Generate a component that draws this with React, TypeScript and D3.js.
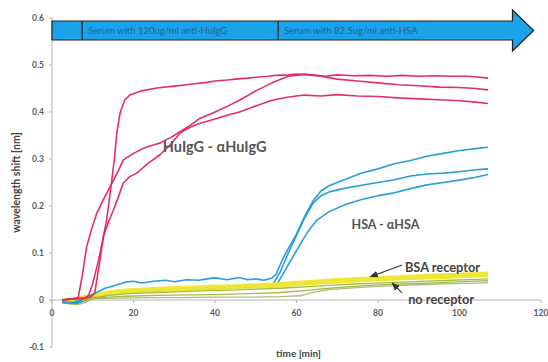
import React from 'react';
import { scaleLinear, line, curveLinear } from 'd3';

const W = 548;
const H = 362;

// time [min], wavelength shift [nm]
const huigg1: [number, number][] = [
    [2.5, 0.0], [4, 0.002], [6, 0.003], [8, 0.004], [9, 0.01], [10, 0.035], [11, 0.07], [11.8, 0.1], [12.6, 0.135],
    [13.4, 0.17], [14.6, 0.25], [15.3, 0.3], [15.9, 0.355], [16.7, 0.398], [17.8, 0.425], [19.1, 0.436],
    [22, 0.445], [25.7, 0.451], [30, 0.455], [33, 0.458], [35, 0.46], [38, 0.463], [40, 0.466], [43, 0.468],
    [45, 0.47], [48, 0.472], [50, 0.474], [53, 0.476], [55, 0.478], [58, 0.479], [60, 0.481], [62, 0.48],
    [65, 0.478], [67, 0.476], [70, 0.479], [74, 0.477], [78, 0.478], [82, 0.476], [86, 0.478], [90, 0.476],
    [94, 0.477], [98, 0.476], [102, 0.476], [105, 0.474], [107, 0.472],
];
const huigg2: [number, number][] = [
    [2.5, 0.0], [4, 0.001], [5.5, 0.003], [6.4, 0.004], [7.4, 0.05], [8.5, 0.113], [9.7, 0.15], [11, 0.185],
    [12.5, 0.212], [14.2, 0.24], [16, 0.27], [17.5, 0.298], [20, 0.312], [23, 0.325], [26.5, 0.334],
    [29, 0.345], [31.4, 0.358], [34, 0.372], [36, 0.385], [40, 0.4], [43, 0.412], [46, 0.425], [50, 0.445],
    [54, 0.462], [58, 0.476], [62, 0.48], [66, 0.476], [70, 0.47], [75, 0.466], [80, 0.462], [85, 0.458],
    [90, 0.456], [95, 0.453], [100, 0.452], [104, 0.45], [107, 0.447],
];
const huigg3: [number, number][] = [
    [2.5, 0.0], [5, 0.002], [8, 0.004], [9.5, 0.006], [10.5, 0.015], [11.5, 0.07], [12.6, 0.134], [13.8, 0.165],
    [15, 0.19], [16.3, 0.22], [17.5, 0.249], [19, 0.262], [20.8, 0.27], [23.5, 0.29], [26.5, 0.309],
    [29, 0.33], [31.4, 0.355], [34, 0.368], [36, 0.375], [40, 0.385], [43, 0.393], [46, 0.4], [50, 0.413],
    [54, 0.425], [58, 0.432], [62, 0.436], [66, 0.434], [70, 0.437], [75, 0.434], [80, 0.433], [85, 0.43],
    [90, 0.428], [95, 0.426], [100, 0.424], [104, 0.421], [107, 0.418],
];

const hsa1: [number, number][] = [
    [2.5, -0.004], [5, -0.007], [7, 0.0], [10, 0.012], [13, 0.025], [15, 0.03], [18, 0.038], [20, 0.04],
    [22, 0.036], [25, 0.04], [28, 0.042], [30, 0.039], [33, 0.043], [36, 0.042], [38, 0.045], [40, 0.047],
    [43, 0.043], [46, 0.048], [48, 0.043], [50, 0.045], [52, 0.042], [54, 0.047], [55, 0.055], [56.5, 0.085],
    [58, 0.11], [60, 0.14], [62, 0.178], [64, 0.21], [66, 0.232], [68, 0.243], [70, 0.25], [73, 0.26],
    [76, 0.27], [80, 0.279], [84, 0.29], [88, 0.297], [92, 0.306], [96, 0.312], [100, 0.318], [104, 0.322],
    [107, 0.325],
];
const hsa2: [number, number][] = [
    [2.5, -0.005], [6, -0.006], [9, 0.004], [14, 0.014], [20, 0.02], [26, 0.022], [32, 0.024], [38, 0.026],
    [44, 0.027], [50, 0.029], [54, 0.031], [56, 0.06], [58, 0.1], [60, 0.138], [62, 0.175], [64, 0.205],
    [66, 0.222], [68, 0.23], [72, 0.238], [76, 0.244], [80, 0.25], [84, 0.256], [88, 0.264], [92, 0.268],
    [96, 0.27], [100, 0.273], [104, 0.277], [107, 0.279],
];
const hsa3: [number, number][] = [
    [2.5, -0.006], [6, -0.008], [9, 0.002], [14, 0.012], [20, 0.018], [26, 0.021], [32, 0.023], [38, 0.025],
    [44, 0.026], [50, 0.028], [55, 0.03], [57, 0.06], [59, 0.09], [61, 0.12], [63, 0.148], [65, 0.17],
    [68, 0.188], [72, 0.203], [76, 0.214], [80, 0.222], [84, 0.228], [88, 0.237], [92, 0.245], [96, 0.25],
    [100, 0.255], [104, 0.261], [107, 0.267],
];

const bsa1: [number, number][] = [
    [2.5, 0.0], [5, 0.002], [8, 0.008], [12, 0.015], [16, 0.02], [20, 0.023], [25, 0.025], [30, 0.027],
    [35, 0.028], [40, 0.03], [45, 0.031], [50, 0.033], [55, 0.035], [60, 0.038], [65, 0.041], [70, 0.044],
    [75, 0.046], [80, 0.048], [85, 0.05], [90, 0.052], [95, 0.054], [100, 0.055], [104, 0.057], [107, 0.058],
];
const bsa2: [number, number][] = [
    [2.5, 0.0], [5, 0.0], [8, 0.005], [12, 0.012], [16, 0.017], [20, 0.02], [25, 0.021], [30, 0.024],
    [35, 0.025], [40, 0.027], [45, 0.029], [50, 0.03], [55, 0.031], [60, 0.035], [65, 0.038], [70, 0.041],
    [75, 0.043], [80, 0.045], [85, 0.047], [90, 0.049], [95, 0.05], [100, 0.052], [104, 0.053], [107, 0.054],
];
const bsa3: [number, number][] = [
    [2.5, 0.0], [5, -0.002], [8, 0.003], [12, 0.01], [16, 0.014], [20, 0.017], [25, 0.019], [30, 0.021],
    [35, 0.022], [40, 0.024], [45, 0.026], [50, 0.027], [55, 0.029], [60, 0.032], [65, 0.035], [70, 0.038],
    [75, 0.04], [80, 0.042], [85, 0.044], [90, 0.046], [95, 0.047], [100, 0.049], [104, 0.05], [107, 0.051],
];

const noRec1: [number, number][] = [
    [2.5, -0.002], [4, -0.008], [6, -0.01], [8, -0.006], [10, 0.004], [14, 0.01], [20, 0.014], [26, 0.016],
    [32, 0.018], [38, 0.02], [44, 0.021], [50, 0.023], [56, 0.025], [62, 0.028], [68, 0.031], [74, 0.034],
    [80, 0.036], [86, 0.038], [92, 0.04], [98, 0.042], [104, 0.044], [107, 0.045],
];
const noRec2: [number, number][] = [
    [2.5, 0.0], [5, -0.004], [8, 0.0], [12, 0.005], [18, 0.008], [26, 0.01], [34, 0.011], [42, 0.012],
    [50, 0.014], [56, 0.016], [62, 0.02], [68, 0.025], [74, 0.029], [80, 0.032], [86, 0.034], [92, 0.036],
    [98, 0.038], [104, 0.04], [107, 0.041],
];
const noRec3: [number, number][] = [
    [2.5, 0.0], [6, 0.0], [10, 0.003], [16, 0.004], [24, 0.005], [32, 0.005], [40, 0.006], [48, 0.006],
    [56, 0.007], [61, 0.009], [64, 0.016], [68, 0.022], [74, 0.026], [80, 0.029], [86, 0.031], [92, 0.033],
    [98, 0.035], [104, 0.036], [107, 0.037],
];

const xTicks = [0, 20, 40, 60, 80, 100, 120];
const yTicks = [-0.1, 0, 0.1, 0.2, 0.3, 0.4, 0.5, 0.6];
const injections = [7.4, 55.5];
const injectionLabels = ['Serum with 120ug/ml anti-HuIgG', 'Serum with 82.5ug/ml anti-HSA'];

const RED = '#e2245b';
const BLUE = '#1c9ad8';
const YELLOW = '#eee72e';
const GREEN = '#9dbb3f';
const OLIVE = '#b3b37e';

export default function App() {
    const x = scaleLinear().domain([0, 120]).range([52, 541]);
    const y = scaleLinear().domain([-0.1, 0.6]).range([347, 18]);
    const path = line<[number, number]>()
        .x((d) => x(d[0]))
        .y((d) => y(d[1]))
        .curve(curveLinear);

    const series = [
        { d: hsa3, c: BLUE, w: 1.6 },
        { d: hsa2, c: BLUE, w: 1.6 },
        { d: noRec3, c: OLIVE, w: 1.3 },
        { d: bsa3, c: YELLOW, w: 2.6 },
        { d: bsa2, c: YELLOW, w: 2.6 },
        { d: bsa1, c: YELLOW, w: 2.6 },
        { d: noRec2, c: GREEN, w: 1.3 },
        { d: noRec1, c: GREEN, w: 1.3 },
        { d: hsa1, c: BLUE, w: 1.6 },
        { d: huigg3, c: RED, w: 1.6 },
        { d: huigg2, c: RED, w: 1.6 },
        { d: huigg1, c: RED, w: 1.6 },
    ];

    const font = 'Lato, "Open Sans", sans-serif';
    const bx0 = x(0);
    const bx1 = x(113);
    const tip = x(118.2);
    const arrow = `M${bx0},21 H${bx1} V10 L${tip},30.5 L${bx1},51 V40 H${bx0} Z`;

    return (
        <svg width={W} height={H} style={{ position: 'absolute', left: 0, top: 0, background: '#fff' }}>
            <defs>
                <marker id="ah" viewBox="0 0 10 10" refX="8" refY="5" markerWidth="7" markerHeight="7" orient="auto">
                    <path d="M0,1 L10,5 L0,9 Z" fill="#333" />
                </marker>
            </defs>
            {/* axes */}
            <line x1={x(0)} x2={x(0)} y1={y(0.6)} y2={y(-0.1)} stroke="#b5b5b5" />
            <line x1={x(0)} x2={x(120)} y1={y(0)} y2={y(0)} stroke="#b5b5b5" />
            {yTicks.map((t) => (
                <g key={t}>
                    <line x1={x(0) - 3} x2={x(0)} y1={y(t)} y2={y(t)} stroke="#b5b5b5" />
                    <text x={x(0) - 8} y={y(t)} dy="0.35em" textAnchor="end" fontSize={8.5} fontWeight="bold" fill="#5a5a5a" fontFamily={font}>
                        {t === 0 ? '0' : String(Math.round(t * 10) / 10)}
                    </text>
                </g>
            ))}
            {xTicks.map((t) => (
                <g key={t}>
                    <line x1={x(t)} x2={x(t)} y1={y(0)} y2={y(0) + 3} stroke="#b5b5b5" />
                    <text x={x(t)} y={313} dy="0.35em" textAnchor="middle" fontSize={8.5} fontWeight="bold" fill="#5a5a5a" fontFamily={font}>
                        {t}
                    </text>
                </g>
            ))}
            <text transform={`translate(16,${y(0.25)}) rotate(-90)`} textAnchor="middle" dy="0.35em" fontSize={10.5} fontWeight="bold" fill="#444" fontFamily={font}>
                wavelength shift [nm]
            </text>
            <text x={x(60.5)} y={353} dy="0.35em" textAnchor="middle" fontSize={10} fontWeight="bold" fill="#444" fontFamily={font}>
                time [min]
            </text>

            {/* data */}
            {series.map((s, i) => (
                <path key={i} d={path(s.d) || ''} fill="none" stroke={s.c} strokeWidth={s.w} strokeLinejoin="round" opacity={0.95} />
            ))}

            {/* banner */}
            <path d={arrow} fill="#1aa3ea" stroke="#222" strokeWidth={1.2} />
            {injections.map((t, i) => (
                <g key={t}>
                    <line x1={x(t)} x2={x(t)} y1={21} y2={40} stroke="#222" strokeWidth={1.2} />
                    <text x={x(t) + 6} y={31} dy="0.35em" fontSize={9.5} fill="#2d5f85" fontFamily={font}>
                        {injectionLabels[i]}
                    </text>
                </g>
            ))}

            {/* annotations */}
            <text x={x(27.2)} y={y(0.326)} dy="0.35em" fontSize={14.5} fontWeight="bold" fill="#555" fontFamily={font}>
                HuIgG - αHuIgG
            </text>
            <text x={x(73.5)} y={y(0.16)} dy="0.35em" fontSize={12.5} fontWeight="bold" fill="#555" fontFamily={font}>
                HSA - αHSA
            </text>
            <text x={x(86.6)} y={y(0.07)} dy="0.35em" fontSize={12.8} fontWeight="bold" fill="#444" fontFamily={font}>
                BSA receptor
            </text>
            <text x={x(87.4)} y={y(0.002)} dy="0.35em" fontSize={12.8} fontWeight="bold" fill="#444" fontFamily={font}>
                no receptor
            </text>
            <line x1={x(85.9)} y1={y(0.0745)} x2={x(78.3)} y2={y(0.05)} stroke="#333" strokeWidth={1.2} markerEnd="url(#ah)" />
            <line x1={x(85.9)} y1={y(0.015)} x2={x(83.6)} y2={y(0.035)} stroke="#333" strokeWidth={1.2} markerEnd="url(#ah)" />
        </svg>
    );
}
